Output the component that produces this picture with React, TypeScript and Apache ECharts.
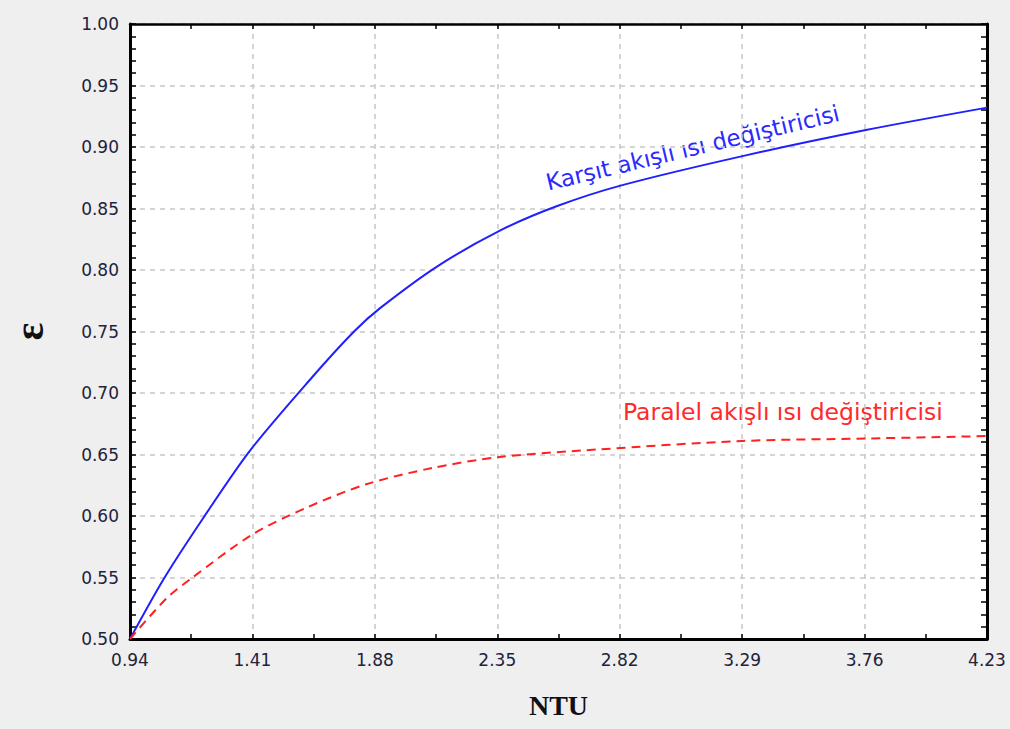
import React, { useEffect, useRef } from "react";
import * as echarts from "echarts";

const counterFlow: [number, number][] = [
  [0.94, 0.5], [1.07, 0.549], [1.22, 0.598], [1.4, 0.653], [1.64, 0.713],
  [1.8, 0.75], [1.9, 0.769], [2.12, 0.803], [2.36, 0.832], [2.58, 0.852],
  [2.83, 0.869], [3.3, 0.893], [3.77, 0.914], [4.23, 0.932],
];
const parallelFlow: [number, number][] = [
  [0.94, 0.5], [1.08, 0.533], [1.18, 0.55], [1.41, 0.585], [1.62, 0.607],
  [1.85, 0.626], [2.1, 0.639], [2.36, 0.648], [2.73, 0.654], [3.29, 0.661],
  [3.77, 0.663], [4.23, 0.665],
];
const xMin = 0.94;
const xMax = 4.23;
const xStep = 0.47;
const yMin = 0.5;
const yMax = 1.0;
const yStep = 0.05;
const counterLabel = "Karşıt akışlı ısı değiştiricisi";
const parallelLabel = "Paralel akışlı ısı değiştiricisi";
const xName = "NTU";
const yName = "ε";

export default function App() {
  const ref = useRef<HTMLDivElement>(null);
  useEffect(() => {
    if (!ref.current) return;
    const chart = echarts.init(ref.current, null, { renderer: "svg" });
    const labelStyle = {
      fontFamily: "DejaVu Sans",
      fontSize: 17,
      color: "#22223a",
    };
    const gridLine = { show: true, lineStyle: { color: "#c8c8c8", width: 1.5, type: [5, 5] } };
    const baseX = { type: "value", min: xMin, max: xMax, interval: xStep };
    const baseY = { type: "value", min: yMin, max: yMax, interval: yStep };
    const tickStyle = { color: "#000", width: 1.5 };
    chart.setOption({
      animation: false,
      backgroundColor: "#efefef",
      grid: { left: 130, right: 23, top: 24, bottom: 90, show: true, backgroundColor: "#ffffff", borderWidth: 0 },
      xAxis: [
        {
          ...baseX,
          position: "bottom",
          name: xName,
          nameLocation: "middle",
          nameGap: 52,
          nameTextStyle: { fontFamily: "Liberation Serif", fontWeight: "bold", fontSize: 28, color: "#111" },
          axisLine: { show: true, lineStyle: { color: "#000", width: 3 } },
          axisTick: { show: true, inside: true, length: 5, lineStyle: tickStyle },
          minorTick: { show: true, splitNumber: 2, length: 5, lineStyle: tickStyle },
          axisLabel: { ...labelStyle, margin: 12, formatter: (v: number) => v.toFixed(2) },
          splitLine: gridLine,
        },
        {
          ...baseX,
          position: "top",
          axisLine: { show: true, lineStyle: { color: "#000", width: 2.5 } },
          axisTick: { show: true, inside: true, length: 5, lineStyle: tickStyle },
          minorTick: { show: true, splitNumber: 2, length: 5, lineStyle: tickStyle },
          axisLabel: { show: false },
          splitLine: { show: false },
        },
      ],
      yAxis: [
        {
          ...baseY,
          position: "left",
          name: yName,
          nameLocation: "middle",
          nameGap: 80,
          nameRotate: 90,
          nameTextStyle: { fontFamily: "Liberation Serif", fontWeight: "bold", fontSize: 42, color: "#111" },
          axisLine: { show: true, lineStyle: { color: "#000", width: 3 } },
          axisTick: { show: true, inside: true, length: 6, lineStyle: tickStyle },
          minorTick: { show: true, splitNumber: 5, length: 6, lineStyle: tickStyle },
          axisLabel: { ...labelStyle, margin: 11, formatter: (v: number) => v.toFixed(2) },
          splitLine: gridLine,
        },
        {
          ...baseY,
          position: "right",
          axisLine: { show: true, lineStyle: { color: "#000", width: 3 } },
          axisTick: { show: true, inside: true, length: 6, lineStyle: tickStyle },
          minorTick: { show: true, splitNumber: 5, length: 6, lineStyle: tickStyle },
          axisLabel: { show: false },
          splitLine: { show: false },
        },
      ],
      graphic: [
        {
          type: "text",
          x: 549,
          y: 194,
          rotation: (13.5 * Math.PI) / 180,
          style: {
            text: counterLabel,
            fill: "#2a2aff",
            font: "23px 'DejaVu Sans'",
            textAlign: "left",
            textVerticalAlign: "bottom",
          },
        },
        {
          type: "text",
          x: 623,
          y: 424,
          style: {
            text: parallelLabel,
            fill: "#ff2a2a",
            font: "23.5px 'DejaVu Sans'",
            textAlign: "left",
            textVerticalAlign: "bottom",
          },
        },
      ],
      series: [
        {
          type: "line",
          name: counterLabel,
          data: counterFlow,
          smooth: 0.3,
          showSymbol: false,
          symbol: "none",
          lineStyle: { color: "#2020ff", width: 2 },
        },
        {
          type: "line",
          name: parallelLabel,
          data: parallelFlow,
          smooth: 0.3,
          showSymbol: false,
          symbol: "none",
          lineStyle: { color: "#ff2020", width: 2, type: [9, 6] },
        },
      ],
    });
    return () => chart.dispose();
  }, []);
  return (
    <div
      ref={ref}
      style={{ position: "fixed", left: 0, top: 0, width: 1010, height: 729 }}
    />
  );
}
